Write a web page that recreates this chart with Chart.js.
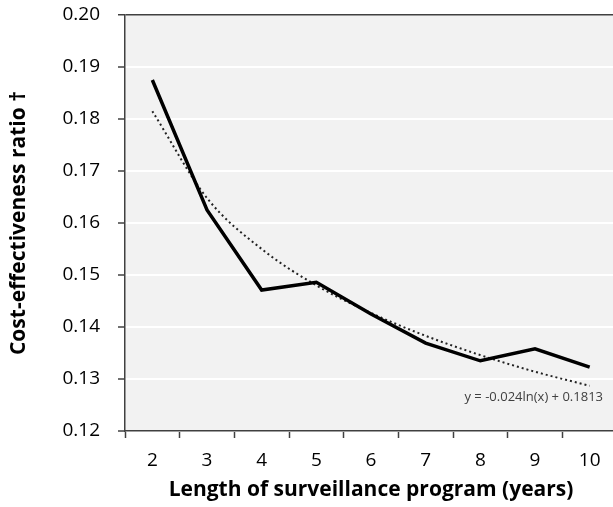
<!DOCTYPE html>
<html>
<head>
<meta charset="utf-8">
<script src="https://cdn.jsdelivr.net/npm/chart.js@4"></script>
<style>
  html, body { margin: 0; padding: 0; background: #fff; overflow: hidden; }
  #wrap { width: 620px; height: 507px; }
</style>
</head>
<body>
<div id="wrap"><canvas id="ratio"></canvas></div>
<script>
// years of surveillance
var years = ['2', '3', '4', '5', '6', '7', '8', '9', '10'];
// cost-effectiveness ratio
var ratio = [0.1875, 0.1625, 0.1471, 0.1486, 0.1425, 0.1369, 0.1335, 0.1358, 0.1323];
// logarithmic trendline as drawn in the figure
var trend = [0.1815, 0.1648, 0.1550, 0.1480, 0.1427, 0.1383, 0.1346, 0.1314, 0.1287];
var yTicks = [0.12, 0.13, 0.14, 0.15, 0.16, 0.17, 0.18, 0.19, 0.20];
var equation = 'y = -0.024ln(x) + 0.1813';

var plotBg = {
    id: 'plotBg',
    beforeDraw: function (chart) {
        var a = chart.chartArea, c = chart.ctx;
        c.save();
        c.fillStyle = '#f2f2f2';
        c.fillRect(a.left, a.top, a.right - a.left, a.bottom - a.top);
        c.restore();
    },
    afterDatasetsDraw: function (chart) {
        var c = chart.ctx, a = chart.chartArea;
        var y = chart.scales.y.getPixelForValue(0.1287);
        c.save();
        c.font = '13px "Open Sans"';
        c.fillStyle = '#404040';
        c.textAlign = 'right';
        c.textBaseline = 'middle';
        c.fillText(equation, a.right - 14, y + 12);
        c.restore();
    }
};

var ctx = document.getElementById('ratio').getContext('2d');
var lineChart = new Chart(ctx, {
    type: 'line',
    data: {
        labels: years,
        datasets: [{
            label: 'Ratio',
            data: ratio,
            borderColor: '#000',
            borderWidth: 3.5,
            pointRadius: 0,
            tension: 0,
            order: 1
        }, {
            label: 'Trend',
            data: trend,
            borderColor: '#222',
            borderWidth: 2,
            borderDash: [2, 3],
            pointRadius: 0,
            cubicInterpolationMode: 'monotone',
            order: 2
        }]
    },
    options: {
        responsive: true,
        maintainAspectRatio: false,
        animation: false,
        layout: { padding: { top: 15, right: 3 } },
        plugins: {
            legend: { display: false },
            tooltip: { enabled: false }
        },
        scales: {
            x: {
                offset: true,
                grid: {
                    offset: true,
                    drawOnChartArea: false,
                    tickColor: '#404040',
                    tickLength: 7,
                    tickWidth: 1.5
                },
                border: { color: '#404040', width: 1.5 },
                ticks: {
                    color: '#000',
                    font: { family: '"Open Sans"', size: 19 },
                    padding: 11
                },
                title: {
                    display: true,
                    text: 'Length of surveillance program (years)',
                    color: '#000',
                    font: { family: '"Open Sans"', size: 21, weight: 'bold' },
                    padding: { top: 3 }
                },
                afterFit: function (s) { s.height = 76; }
            },
            y: {
                min: 0.12,
                max: 0.20,
                afterBuildTicks: function (s) {
                    s.ticks = yTicks.map(function (v) { return { value: v }; });
                },
                grid: {
                    color: function (c) { return c.tick.value >= 0.20 ? '#404040' : '#ffffff'; },
                    lineWidth: function (c) { return c.tick.value >= 0.20 ? 1.5 : 2; },
                    tickColor: '#404040',
                    tickLength: 7,
                    tickWidth: 1.5
                },
                border: { color: '#404040', width: 1.5 },
                ticks: {
                    color: '#000',
                    font: { family: '"Open Sans"', size: 19 },
                    padding: 18,
                    callback: function (v) { return v.toFixed(2); }
                },
                title: {
                    display: true,
                    text: 'Cost-effectiveness ratio †',
                    color: '#000',
                    font: { family: '"Open Sans"', size: 21, weight: 'bold' },
                    padding: { top: 6, bottom: 0 }
                },
                afterFit: function (s) {
                    s.width = 125;
                    s.paddingTop = 0;
                    s.paddingBottom = 0;
                }
            }
        }
    },
    plugins: [plotBg]
});
</script>
</body>
</html>
